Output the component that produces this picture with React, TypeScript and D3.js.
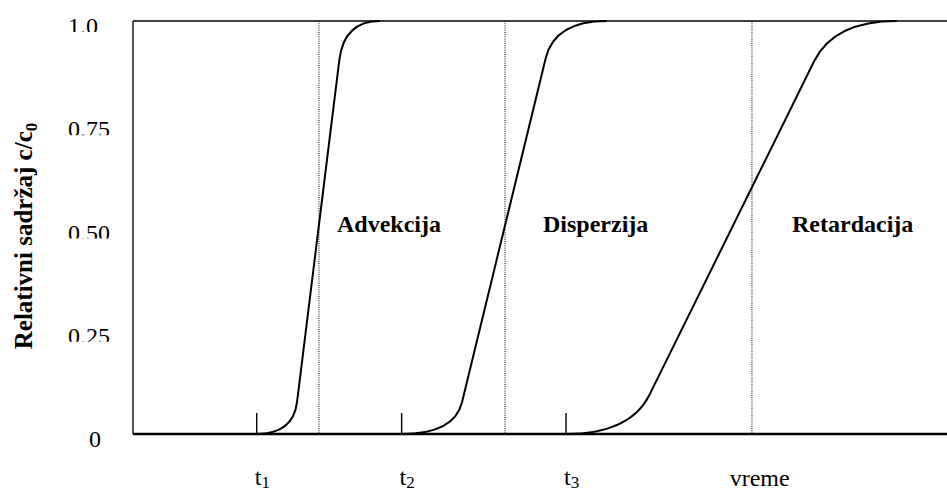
import React from "react";
import * as d3 from "d3";

const W = 947;
const H = 492;

// concentration axis
const yTicks = [0, 0.25, 0.5, 0.75, 1];
const yTickLabels = ["0", "0.25", "0.50", "0.75", "1.0"];

// breakthrough curves (time in arbitrary units, concentration c/c0)
const startTimes = [15.2, 33.0, 53.2];
const toeControlTimes = [19.66, 39.46, 61.06];
const lowBendTimes = [20.15, 40.42, 63.43];
const lowBendConc = [0.077, 0.077, 0.094];
const highBendTimes = [25.35, 50.7, 83.69];
const highBendConc = [0.906, 0.91, 0.903];
const shoulderControlTimes = [25.93, 51.8, 86.12];
const plateauTimes = [30.34, 58.19, 93.83];

// times where each curve reaches its mid-point marker
const markerTimes = [22.85, 45.7, 76.04];

// process labels
const processLabels = ["Advekcija", "Disperzija", "Retardacija"];
const processLabelTimes = [25.06, 50.37, 80.96];

// time axis labels
const timeSubscripts = ["1", "2", "3"];
const axisTitleX = "vreme";
const axisTitleXTime = 73.3;

const FONT = "Liberation Serif, Times New Roman, Times, serif";

export default function App() {
  const x = d3.scaleLinear().domain([0, 100]).range([133, 947]);
  const y = d3.scaleLinear().domain([0, 1]).range([434, 21]);

  const curvePaths = startTimes.map((s, i) => {
    const p = d3.path();
    p.moveTo(x(s), y(0));
    p.quadraticCurveTo(x(toeControlTimes[i]), y(0), x(lowBendTimes[i]), y(lowBendConc[i]));
    p.lineTo(x(highBendTimes[i]), y(highBendConc[i]));
    p.quadraticCurveTo(x(shoulderControlTimes[i]), y(1), x(plateauTimes[i]), y(1));
    return p.toString();
  });

  const x0 = x(0);
  const x1 = x(100);
  const txt = { fontFamily: FONT };

  return (
    <svg
      width={W}
      height={H}
      style={{ position: "absolute", left: 0, top: 0, background: "#fff", fontFamily: FONT }}
    >
      <defs>
        {yTicks.map((v, i) => (
          <clipPath id={`ylab-${i}`} key={i}>
            <rect x={0} y={0} width={130} height={v === 0 ? H : y(v) + 11} />
          </clipPath>
        ))}
      </defs>

      {/* frame */}
      <line x1={x0} x2={x1} y1={y(1)} y2={y(1)} stroke="#000" strokeWidth={1.5} />
      <line x1={x0} x2={x0} y1={y(1)} y2={y(0)} stroke="#000" strokeWidth={1.3} />

      {/* marker lines */}
      {markerTimes.map((t, i) => (
        <line
          key={i}
          x1={x(t)}
          x2={x(t)}
          y1={y(1)}
          y2={y(0)}
          stroke="#000"
          strokeWidth={1}
          strokeDasharray="1,1.2"
        />
      ))}

      {/* start ticks */}
      {startTimes.map((t, i) => (
        <line key={i} x1={x(t)} x2={x(t)} y1={y(0)} y2={y(0) - 21} stroke="#000" strokeWidth={1.4} />
      ))}

      {/* curves */}
      {curvePaths.map((d, i) => (
        <path key={i} d={d} fill="none" stroke="#000" strokeWidth={2} strokeLinejoin="round" />
      ))}

      {/* time axis */}
      <line x1={x0} x2={x1} y1={y(0)} y2={y(0)} stroke="#000" strokeWidth={2.6} />

      {/* y tick labels */}
      {yTicks.map((v, i) => (
        <text
          key={i}
          x={v === 0 ? 95 : 68}
          y={y(v) + 13}
          textAnchor={v === 0 ? "middle" : "start"}
          fontSize={24}
          fill="#000"
          style={txt}
          clipPath={`url(#ylab-${i})`}
        >
          {yTickLabels[i]}
        </text>
      ))}

      {/* y axis title */}
      <text
        transform={`translate(32, 236) rotate(-90)`}
        textAnchor="middle"
        fontSize={25}
        fontWeight="bold"
        fill="#000"
        style={txt}
      >
        Relativni sadržaj c/c
        <tspan fontSize={17} dy={5}>0</tspan>
      </text>

      {/* time labels */}
      {startTimes.map((t, i) => (
        <text key={i} x={x(t) - 2} y={485} fontSize={24} fill="#000" style={txt}>
          t
          <tspan fontSize={17} dy={3}>{timeSubscripts[i]}</tspan>
        </text>
      ))}
      <text x={x(axisTitleXTime)} y={486} fontSize={24} fill="#000" style={txt}>
        {axisTitleX}
      </text>

      {/* process labels */}
      {processLabels.map((lab, i) => (
        <text
          key={i}
          x={x(processLabelTimes[i])}
          y={y(0.5) + 4.5}
          fontSize={24}
          fontWeight="bold"
          fill="#000"
          style={txt}
        >
          {lab}
        </text>
      ))}
    </svg>
  );
}
